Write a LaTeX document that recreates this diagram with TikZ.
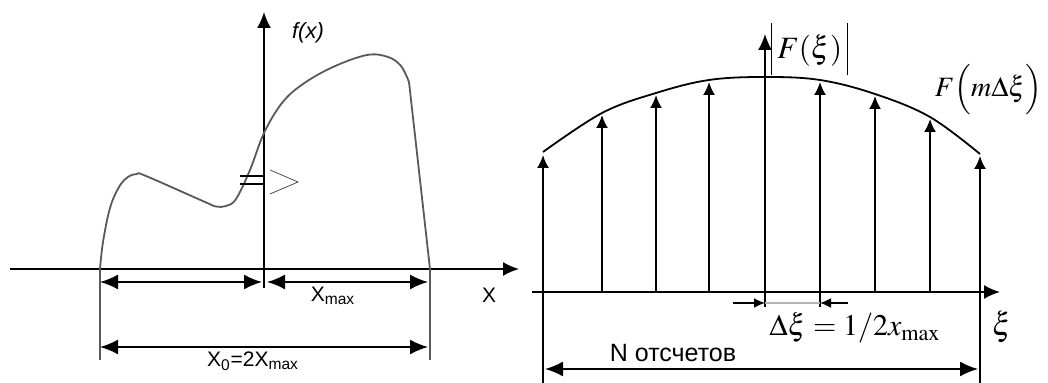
\documentclass[tikz,border=0pt]{standalone}
\usepackage{amsmath}
\usepackage{mathptmx}
\usepackage{fontspec}
\setmainfont{Liberation Serif}
\setsansfont{Liberation Sans}
\usetikzlibrary{arrows.meta,calc}

\newcommand{\tallstrut}[2]{\rule[-#1]{0pt}{#2}}
\newcommand{\absbar}{\rule[-8pt]{0.6pt}{26pt}}

\begin{document}
\begin{tikzpicture}[x=0.5pt, y=-0.5pt, line width=0.9pt,
  tip/.style={-{Latex[length=8pt,width=7pt]}},
  dim/.style={{Latex[length=9pt,width=7.5pt]}-{Latex[length=9pt,width=7.5pt]}},
  stem/.style={-{Latex[length=6.5pt,width=6pt]}},
  small tip/.style={-{Latex[length=5.5pt,width=5pt]}},
  sflbl/.style={inner sep=0pt, font=\sffamily\fontsize{10.5}{12}\selectfont},
  mlbl/.style={inner sep=0pt, font=\fontsize{16}{19}\selectfont}]

\useasboundingbox (0,0) rectangle (1048,383);

% Left: axes
\coordinate (xl) at (10,269);
\coordinate (xr) at (519,269);
\coordinate (yb) at (264,288);
\coordinate (yt) at (264,12);
\draw[tip] (xl) -- (xr);
\draw[tip] (yb) -- (yt);

% Left: signal f(x)
\draw[gray!70!black] plot[smooth, tension=0.6] coordinates {
  (100,269) (103,242) (110,208) (119,187) (128,177) (137,174) (146,176)
  (205,202) (216,206.5) (226,206) (236,199) (250,170) (264,133) (282,103)
  (303,84) (333,67) (367,55) (388,57) (401,66) (409,82)} -- (430,269);

% Left: sign between the halves
\draw (240,176) -- (265,176);
\draw (240,184) -- (265,184);
\draw[thin, gray!60!black] (270,170) -- (298,182) -- (270,194);

% Left: dimensions
\coordinate (a0) at (100,269);
\coordinate (a1) at (430,269);
\coordinate (a0b) at (100,360);
\coordinate (a1b) at (430,360);
\draw[gray!70!black] (a0) -- (a0b);
\draw[gray!70!black] (a1) -- (a1b);
\coordinate (d1l) at (100,282);
\coordinate (d1m) at (262,282);
\coordinate (d1n) at (267,282);
\coordinate (d1r) at (428,282);
\coordinate (d2l) at (100,347);
\coordinate (d2r) at (428,347);
\draw[dim] (d1l) -- (d1m);
\draw[dim] (d1n) -- (d1r);
\draw[dim] (d2l) -- (d2r);

\node[sflbl, font=\sffamily\itshape\fontsize{11}{13}\selectfont] (fx) at (308,33) {f(x)};
\node[sflbl] (xlab) at (489,295) {X};
\node[sflbl] (xmax) at (333,296) {X\textsubscript{max}};
\node[sflbl] (xnull) at (253,361) {X\textsubscript{0}=2X\textsubscript{max}};

% Right: axes
\coordinate (ul) at (532,292);
\coordinate (ur) at (1000,292);
\coordinate (vb) at (765,307);
\coordinate (vt) at (765,34);
\draw[tip] (ul) -- (ur);
\draw[tip] (vb) -- (vt);

% Right: envelope |F|
\draw plot[smooth, tension=0.6] coordinates {
  (543,152) (602,113) (656,93) (709,80) (765,77) (820,80) (875,94)
  (930,117) (980,154)};

% Right: samples F(m dxi)
\foreach \i/\x/\yb/\yt in {1/543/292/155, 2/602/292/115, 3/656/292/95,
    4/709/292/82, 6/820/307/82, 7/875/292/96, 8/930/292/119, 9/980/292/156} {
  \coordinate (s\i) at (\x,\yb);
  \coordinate (t\i) at (\x,\yt);
  \draw[stem] (s\i) -- (t\i);
}

% Right: step dxi
\coordinate (e0) at (733,303);
\coordinate (e1) at (765,303);
\coordinate (e2) at (820,303);
\coordinate (e3) at (848,303);
\draw[small tip] (e0) -- (e1);
\draw[gray!60, line width=0.7pt] (e1) -- (e2);
\draw[small tip] (e3) -- (e2);

% Right: N samples
\coordinate (n0) at (543,292);
\coordinate (n1) at (980,292);
\coordinate (n0b) at (543,383);
\coordinate (n1b) at (980,383);
\draw (n0) -- (n0b);
\draw (n1) -- (n1b);
\coordinate (m0) at (545,369);
\coordinate (m1) at (978,369);
\draw[dim] (m0) -- (m1);

\node[mlbl, anchor=west, font=\fontsize{15.5}{18}\selectfont] (Fxi) at (770,49)
  {\absbar\,$F\!\left(\tallstrut{4pt}{16pt}\xi\right)$\,\absbar};
\node[mlbl, anchor=west, font=\fontsize{14}{17}\selectfont] (Fm) at (934,90)
  {$F\!\left(\tallstrut{6pt}{22pt}m\Delta\xi\right)$};
\node[mlbl, font=\fontsize{15}{18}\selectfont] (dxi) at (855,328) {$\Delta\xi = 1/2x_{\max}$};
\node[mlbl] (xi) at (1002,327) {$\xi$};
\node[sflbl, font=\sffamily\fontsize{12.5}{15}\selectfont] (nlab) at (673,353) {N отсчетов};

\end{tikzpicture}
\end{document}
